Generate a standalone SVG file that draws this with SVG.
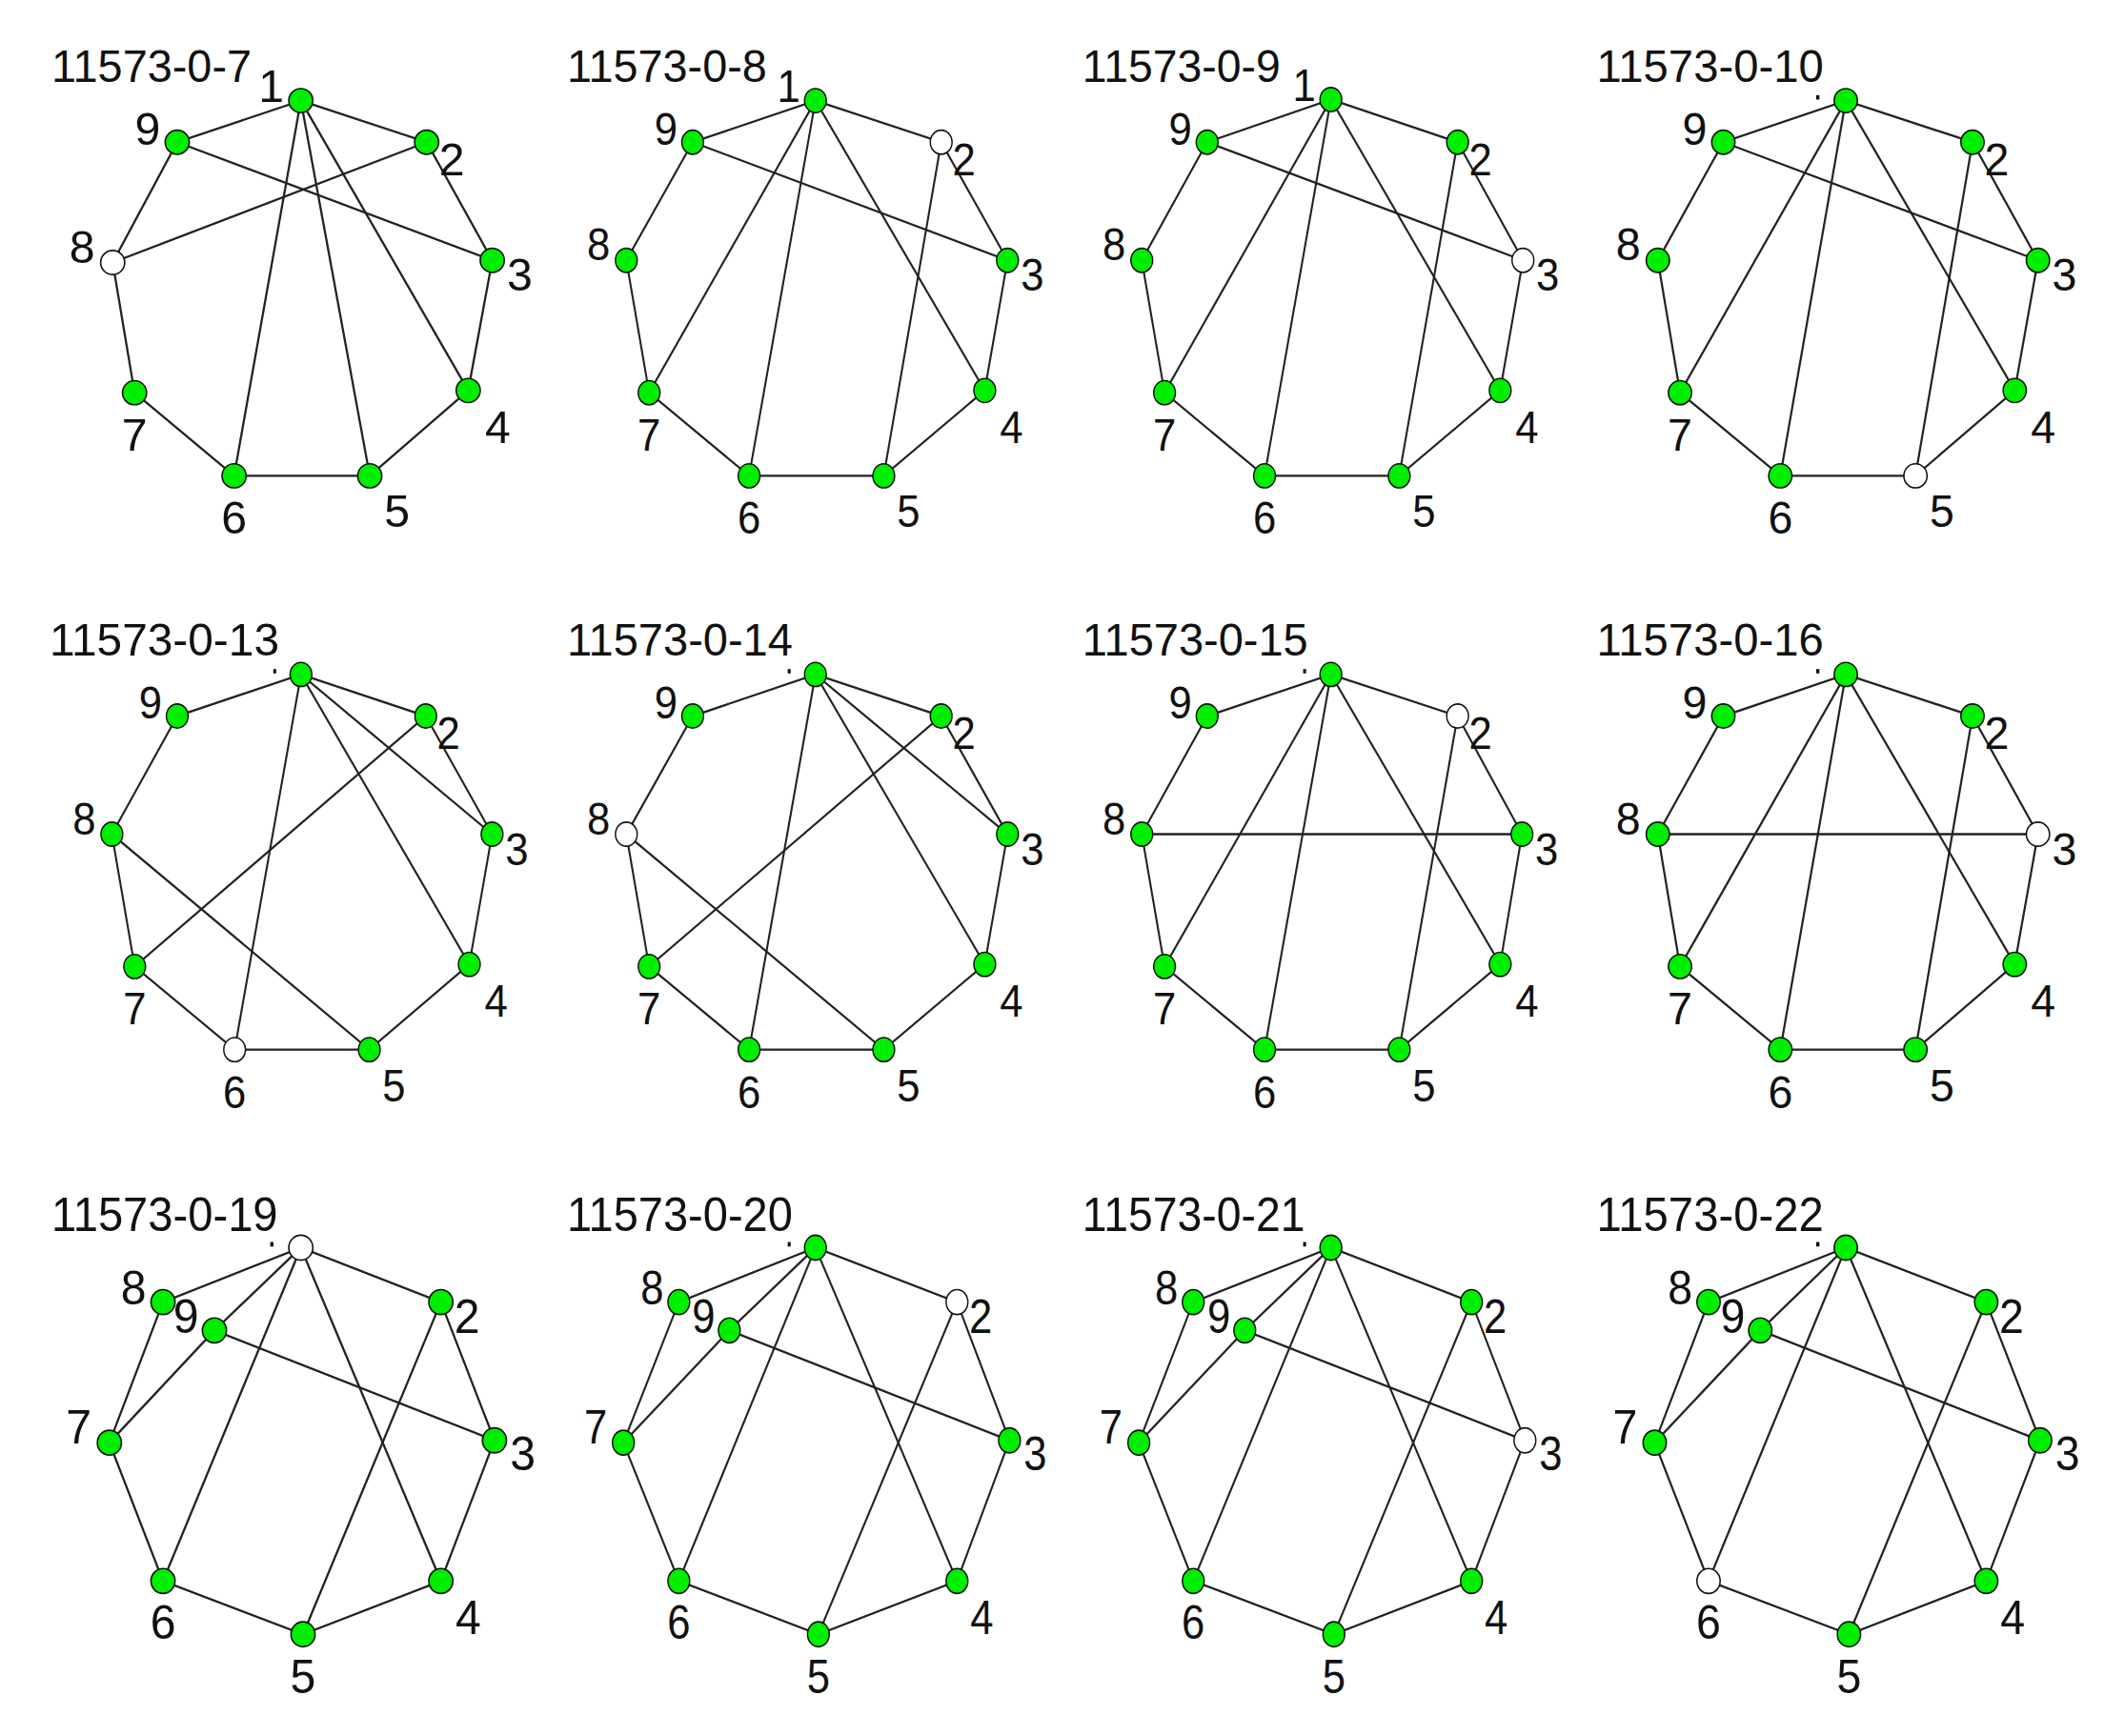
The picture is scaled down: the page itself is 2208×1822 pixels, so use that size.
<svg xmlns="http://www.w3.org/2000/svg" width="2208" height="1822" viewBox="0 0 2208 1822">
<style>
.e{stroke:#222;stroke-width:2;fill:none}
.n{fill:#00ee00;stroke:#111;stroke-width:1.4}
.w{fill:#fff;stroke:#111;stroke-width:1.4}
text{font-family:"Liberation Sans",Arial,sans-serif;font-size:42px;fill:#111}
.l{text-anchor:middle}
.d{fill:#111}
</style>
<rect width="2208" height="1822" fill="#fff"/>

<!-- P1 -->
<g id="p1" transform="translate(0,0) scale(1.148,1.148)">
<text x="47" y="75" textLength="183" lengthAdjust="spacingAndGlyphs">11573-0-7</text>
<g id="p1-edges">
<polygon class="e" points="275,92 390,130 450,238 428,357 338,435 214,435 123,359 103,240 162,130"/>
<line class="e" x1="162" y1="130" x2="450" y2="238"/><line class="e" x1="103" y1="240" x2="390" y2="130"/>
<line class="e" x1="275" y1="92" x2="214" y2="435"/><line class="e" x1="275" y1="92" x2="338" y2="435"/><line class="e" x1="275" y1="92" x2="428" y2="357"/>
</g>
<g id="p1-n1"><circle class="n" cx="275" cy="92" r="11"/><text class="l" x="248" y="93">1</text></g>
<g id="p1-n2"><circle class="n" cx="390" cy="130" r="11"/><text class="l" x="413" y="160">2</text></g>
<g id="p1-n3"><circle class="n" cx="450" cy="238" r="11"/><text class="l" x="475" y="266">3</text></g>
<g id="p1-n4"><circle class="n" cx="428" cy="357" r="11"/><text class="l" x="455" y="405">4</text></g>
<g id="p1-n5"><circle class="n" cx="338" cy="435" r="11"/><text class="l" x="363" y="482">5</text></g>
<g id="p1-n6"><circle class="n" cx="214" cy="435" r="11"/><text class="l" x="214" y="488">6</text></g>
<g id="p1-n7"><circle class="n" cx="123" cy="359" r="11"/><text class="l" x="123" y="412">7</text></g>
<g id="p1-n8"><circle class="w" cx="103" cy="240" r="11"/><text class="l" x="75" y="240">8</text></g>
<g id="p1-n9"><circle class="n" cx="162" cy="130" r="11"/><text class="l" x="135" y="132">9</text></g>
</g>

<!-- P2 -->
<g id="p2" transform="translate(543,0) scale(1.039,1.148)">
<text x="50" y="75" textLength="202" lengthAdjust="spacingAndGlyphs">11573-0-8</text>
<g id="p2-edges">
<polygon class="e" points="301,92 428,130 495,238 472,357 370,435 234,435 133,359 110,238 177,130"/>
<line class="e" x1="177" y1="130" x2="495" y2="238"/><line class="e" x1="301" y1="92" x2="133" y2="359"/>
<line class="e" x1="301" y1="92" x2="234" y2="435"/><line class="e" x1="301" y1="92" x2="472" y2="357"/><line class="e" x1="428" y1="130" x2="370" y2="435"/>
</g>
<g id="p2-n1"><circle class="n" cx="301" cy="92" r="11"/><text class="l" x="274" y="93">1</text></g>
<g id="p2-n2"><circle class="w" cx="428" cy="130" r="11"/><text class="l" x="451" y="160">2</text></g>
<g id="p2-n3"><circle class="n" cx="495" cy="238" r="11"/><text class="l" x="520" y="266">3</text></g>
<g id="p2-n4"><circle class="n" cx="472" cy="357" r="11"/><text class="l" x="499" y="405">4</text></g>
<g id="p2-n5"><circle class="n" cx="370" cy="435" r="11"/><text class="l" x="395" y="482">5</text></g>
<g id="p2-n6"><circle class="n" cx="234" cy="435" r="11"/><text class="l" x="234" y="488">6</text></g>
<g id="p2-n7"><circle class="n" cx="133" cy="359" r="11"/><text class="l" x="133" y="412">7</text></g>
<g id="p2-n8"><circle class="n" cx="110" cy="238" r="11"/><text class="l" x="82" y="238">8</text></g>
<g id="p2-n9"><circle class="n" cx="177" cy="130" r="11"/><text class="l" x="150" y="132">9</text></g>
</g>

<!-- P3 -->
<g id="p3" transform="translate(1086,0) scale(1.039,1.148)">
<text x="48" y="75" textLength="200" lengthAdjust="spacingAndGlyphs">11573-0-9</text>
<g id="p3-edges">
<polygon class="e" points="299,91 427,130 493,238 470,357 368,435 232,435 131,359 108,238 174,130"/>
<line class="e" x1="174" y1="130" x2="493" y2="238"/><line class="e" x1="299" y1="91" x2="131" y2="359"/>
<line class="e" x1="299" y1="91" x2="232" y2="435"/><line class="e" x1="299" y1="91" x2="470" y2="357"/><line class="e" x1="427" y1="130" x2="368" y2="435"/>
</g>
<g id="p3-n1"><circle class="n" cx="299" cy="91" r="11"/><text class="l" x="272" y="92">1</text></g>
<g id="p3-n2"><circle class="n" cx="427" cy="130" r="11"/><text class="l" x="450" y="160">2</text></g>
<g id="p3-n3"><circle class="w" cx="493" cy="238" r="11"/><text class="l" x="518" y="266">3</text></g>
<g id="p3-n4"><circle class="n" cx="470" cy="357" r="11"/><text class="l" x="497" y="405">4</text></g>
<g id="p3-n5"><circle class="n" cx="368" cy="435" r="11"/><text class="l" x="393" y="482">5</text></g>
<g id="p3-n6"><circle class="n" cx="232" cy="435" r="11"/><text class="l" x="232" y="488">6</text></g>
<g id="p3-n7"><circle class="n" cx="131" cy="359" r="11"/><text class="l" x="131" y="412">7</text></g>
<g id="p3-n8"><circle class="n" cx="108" cy="238" r="11"/><text class="l" x="80" y="238">8</text></g>
<g id="p3-n9"><circle class="n" cx="174" cy="130" r="11"/><text class="l" x="147" y="132">9</text></g>
</g>

<!-- P4 -->
<g id="p4" transform="translate(1629,0) scale(1.108,1.148)">
<text x="42" y="75" textLength="215" lengthAdjust="spacingAndGlyphs">11573-0-10</text>
<g id="p4-edges">
<polygon class="e" points="278,92 398,130 460,238 438,357 344,435 216,435 121,359 100,238 162,130"/>
<line class="e" x1="162" y1="130" x2="460" y2="238"/><line class="e" x1="278" y1="92" x2="121" y2="359"/>
<line class="e" x1="278" y1="92" x2="216" y2="435"/><line class="e" x1="278" y1="92" x2="438" y2="357"/><line class="e" x1="398" y1="130" x2="344" y2="435"/>
</g>
<g id="p4-n1"><circle class="n" cx="278" cy="92" r="11"/><rect class="d" x="250" y="87" width="3" height="4"/></g>
<g id="p4-n2"><circle class="n" cx="398" cy="130" r="11"/><text class="l" x="421" y="160">2</text></g>
<g id="p4-n3"><circle class="n" cx="460" cy="238" r="11"/><text class="l" x="485" y="266">3</text></g>
<g id="p4-n4"><circle class="n" cx="438" cy="357" r="11"/><text class="l" x="465" y="405">4</text></g>
<g id="p4-n5"><circle class="w" cx="344" cy="435" r="11"/><text class="l" x="369" y="482">5</text></g>
<g id="p4-n6"><circle class="n" cx="216" cy="435" r="11"/><text class="l" x="216" y="488">6</text></g>
<g id="p4-n7"><circle class="n" cx="121" cy="359" r="11"/><text class="l" x="121" y="412">7</text></g>
<g id="p4-n8"><circle class="n" cx="100" cy="238" r="11"/><text class="l" x="72" y="238">8</text></g>
<g id="p4-n9"><circle class="n" cx="162" cy="130" r="11"/><text class="l" x="135" y="132">9</text></g>
</g>

<!-- P5 -->
<g id="p5" transform="translate(0,600) scale(1.039,1.148)">
<text x="50" y="77" textLength="232" lengthAdjust="spacingAndGlyphs">11573-0-13</text>
<g id="p5-edges">
<polygon class="e" points="304,94 430,132 497,240 474,359 373,437 237,437 136,361 113,240 179,132"/>
<line class="e" x1="304" y1="94" x2="497" y2="240"/><line class="e" x1="304" y1="94" x2="474" y2="359"/>
<line class="e" x1="304" y1="94" x2="237" y2="437"/><line class="e" x1="430" y1="132" x2="136" y2="361"/><line class="e" x1="113" y1="240" x2="373" y2="437"/>
</g>
<g id="p5-n1"><circle class="n" cx="304" cy="94" r="11"/><rect class="d" x="276" y="89" width="3" height="4"/></g>
<g id="p5-n2"><circle class="n" cx="430" cy="132" r="11"/><text class="l" x="453" y="162">2</text></g>
<g id="p5-n3"><circle class="n" cx="497" cy="240" r="11"/><text class="l" x="522" y="268">3</text></g>
<g id="p5-n4"><circle class="n" cx="474" cy="359" r="11"/><text class="l" x="501" y="407">4</text></g>
<g id="p5-n5"><circle class="n" cx="373" cy="437" r="11"/><text class="l" x="398" y="484">5</text></g>
<g id="p5-n6"><circle class="w" cx="237" cy="437" r="11"/><text class="l" x="237" y="490">6</text></g>
<g id="p5-n7"><circle class="n" cx="136" cy="361" r="11"/><text class="l" x="136" y="414">7</text></g>
<g id="p5-n8"><circle class="n" cx="113" cy="240" r="11"/><text class="l" x="85" y="240">8</text></g>
<g id="p5-n9"><circle class="n" cx="179" cy="132" r="11"/><text class="l" x="152" y="134">9</text></g>
</g>

<!-- P6 -->
<g id="p6" transform="translate(543,600) scale(1.039,1.148)">
<text x="50" y="77" textLength="228" lengthAdjust="spacingAndGlyphs">11573-0-14</text>
<g id="p6-edges">
<polygon class="e" points="301,94 428,132 495,240 472,359 370,437 234,437 133,361 110,240 177,132"/>
<line class="e" x1="301" y1="94" x2="495" y2="240"/><line class="e" x1="301" y1="94" x2="472" y2="359"/>
<line class="e" x1="301" y1="94" x2="234" y2="437"/><line class="e" x1="428" y1="132" x2="133" y2="361"/><line class="e" x1="110" y1="240" x2="370" y2="437"/>
</g>
<g id="p6-n1"><circle class="n" cx="301" cy="94" r="11"/><rect class="d" x="273" y="89" width="3" height="4"/></g>
<g id="p6-n2"><circle class="n" cx="428" cy="132" r="11"/><text class="l" x="451" y="162">2</text></g>
<g id="p6-n3"><circle class="n" cx="495" cy="240" r="11"/><text class="l" x="520" y="268">3</text></g>
<g id="p6-n4"><circle class="n" cx="472" cy="359" r="11"/><text class="l" x="499" y="407">4</text></g>
<g id="p6-n5"><circle class="n" cx="370" cy="437" r="11"/><text class="l" x="395" y="484">5</text></g>
<g id="p6-n6"><circle class="n" cx="234" cy="437" r="11"/><text class="l" x="234" y="490">6</text></g>
<g id="p6-n7"><circle class="n" cx="133" cy="361" r="11"/><text class="l" x="133" y="414">7</text></g>
<g id="p6-n8"><circle class="w" cx="110" cy="240" r="11"/><text class="l" x="82" y="240">8</text></g>
<g id="p6-n9"><circle class="n" cx="177" cy="132" r="11"/><text class="l" x="150" y="134">9</text></g>
</g>

<!-- P7 -->
<g id="p7" transform="translate(1086,600) scale(1.039,1.148)">
<text x="48" y="77" textLength="228" lengthAdjust="spacingAndGlyphs">11573-0-15</text>
<g id="p7-edges">
<polygon class="e" points="299,94 427,132 492,240 470,359 368,437 232,437 131,361 108,240 174,132"/>
<line class="e" x1="108" y1="240" x2="492" y2="240"/><line class="e" x1="299" y1="94" x2="131" y2="361"/>
<line class="e" x1="299" y1="94" x2="232" y2="437"/><line class="e" x1="299" y1="94" x2="470" y2="359"/><line class="e" x1="427" y1="132" x2="368" y2="437"/>
</g>
<g id="p7-n1"><circle class="n" cx="299" cy="94" r="11"/><rect class="d" x="271" y="89" width="3" height="4"/></g>
<g id="p7-n2"><circle class="w" cx="427" cy="132" r="11"/><text class="l" x="450" y="162">2</text></g>
<g id="p7-n3"><circle class="n" cx="492" cy="240" r="11"/><text class="l" x="517" y="268">3</text></g>
<g id="p7-n4"><circle class="n" cx="470" cy="359" r="11"/><text class="l" x="497" y="407">4</text></g>
<g id="p7-n5"><circle class="n" cx="368" cy="437" r="11"/><text class="l" x="393" y="484">5</text></g>
<g id="p7-n6"><circle class="n" cx="232" cy="437" r="11"/><text class="l" x="232" y="490">6</text></g>
<g id="p7-n7"><circle class="n" cx="131" cy="361" r="11"/><text class="l" x="131" y="414">7</text></g>
<g id="p7-n8"><circle class="n" cx="108" cy="240" r="11"/><text class="l" x="80" y="240">8</text></g>
<g id="p7-n9"><circle class="n" cx="174" cy="132" r="11"/><text class="l" x="147" y="134">9</text></g>
</g>

<!-- P8 -->
<g id="p8" transform="translate(1629,600) scale(1.108,1.148)">
<text x="42" y="77" textLength="215" lengthAdjust="spacingAndGlyphs">11573-0-16</text>
<g id="p8-edges">
<polygon class="e" points="278,94 398,132 460,240 438,359 344,437 216,437 121,361 100,240 162,132"/>
<line class="e" x1="100" y1="240" x2="460" y2="240"/><line class="e" x1="278" y1="94" x2="121" y2="361"/>
<line class="e" x1="278" y1="94" x2="216" y2="437"/><line class="e" x1="278" y1="94" x2="438" y2="359"/><line class="e" x1="398" y1="132" x2="344" y2="437"/>
</g>
<g id="p8-n1"><circle class="n" cx="278" cy="94" r="11"/><rect class="d" x="250" y="89" width="3" height="4"/></g>
<g id="p8-n2"><circle class="n" cx="398" cy="132" r="11"/><text class="l" x="421" y="162">2</text></g>
<g id="p8-n3"><circle class="w" cx="460" cy="240" r="11"/><text class="l" x="485" y="268">3</text></g>
<g id="p8-n4"><circle class="n" cx="438" cy="359" r="11"/><text class="l" x="465" y="407">4</text></g>
<g id="p8-n5"><circle class="n" cx="344" cy="437" r="11"/><text class="l" x="369" y="484">5</text></g>
<g id="p8-n6"><circle class="n" cx="216" cy="437" r="11"/><text class="l" x="216" y="490">6</text></g>
<g id="p8-n7"><circle class="n" cx="121" cy="361" r="11"/><text class="l" x="121" y="414">7</text></g>
<g id="p8-n8"><circle class="n" cx="100" cy="240" r="11"/><text class="l" x="72" y="240">8</text></g>
<g id="p8-n9"><circle class="n" cx="162" cy="132" r="11"/><text class="l" x="135" y="134">9</text></g>
</g>

<!-- P9 -->
<g id="p9" transform="translate(0,1200) scale(1.148,1.19)">
<text x="47" y="77" textLength="207" lengthAdjust="spacingAndGlyphs">11573-0-19</text>
<g id="p9-edges">
<polygon class="e" points="275,92 403,140 452,262 403,386 277,433 149,386 100,264 149,140"/>
<line class="e" x1="196" y1="165" x2="275" y2="92"/><line class="e" x1="196" y1="165" x2="100" y2="264"/><line class="e" x1="196" y1="165" x2="452" y2="262"/>
<line class="e" x1="275" y1="92" x2="149" y2="386"/><line class="e" x1="275" y1="92" x2="403" y2="386"/><line class="e" x1="403" y1="140" x2="277" y2="433"/>
</g>
<g id="p9-n1"><circle class="w" cx="275" cy="92" r="11"/><rect class="d" x="247" y="87" width="3" height="4"/></g>
<g id="p9-n2"><circle class="n" cx="403" cy="140" r="11"/><text class="l" x="427" y="167">2</text></g>
<g id="p9-n3"><circle class="n" cx="452" cy="262" r="11"/><text class="l" x="478" y="288">3</text></g>
<g id="p9-n4"><circle class="n" cx="403" cy="386" r="11"/><text class="l" x="428" y="433">4</text></g>
<g id="p9-n5"><circle class="n" cx="277" cy="433" r="11"/><text class="l" x="277" y="485">5</text></g>
<g id="p9-n6"><circle class="n" cx="149" cy="386" r="11"/><text class="l" x="149" y="437">6</text></g>
<g id="p9-n7"><circle class="n" cx="100" cy="264" r="11"/><text class="l" x="72" y="265">7</text></g>
<g id="p9-n8"><circle class="n" cx="149" cy="140" r="11"/><text class="l" x="122" y="142">8</text></g>
<g id="p9-n9"><text class="l" x="170" y="167">9</text><circle class="n" cx="196" cy="165" r="11"/></g>
</g>

<!-- P10 -->
<g id="p10" transform="translate(543,1200) scale(1.039,1.19)">
<text x="50" y="77" textLength="228" lengthAdjust="spacingAndGlyphs">11573-0-20</text>
<g id="p10-edges">
<polygon class="e" points="301,92 444,140 497,262 444,386 304,433 163,386 107,264 163,140"/>
<line class="e" x1="214" y1="165" x2="301" y2="92"/><line class="e" x1="214" y1="165" x2="107" y2="264"/><line class="e" x1="214" y1="165" x2="497" y2="262"/>
<line class="e" x1="301" y1="92" x2="163" y2="386"/><line class="e" x1="301" y1="92" x2="444" y2="386"/><line class="e" x1="444" y1="140" x2="304" y2="433"/>
</g>
<g id="p10-n1"><circle class="n" cx="301" cy="92" r="11"/><rect class="d" x="273" y="87" width="3" height="4"/></g>
<g id="p10-n2"><circle class="w" cx="444" cy="140" r="11"/><text class="l" x="468" y="167">2</text></g>
<g id="p10-n3"><circle class="n" cx="497" cy="262" r="11"/><text class="l" x="523" y="288">3</text></g>
<g id="p10-n4"><circle class="n" cx="444" cy="386" r="11"/><text class="l" x="469" y="433">4</text></g>
<g id="p10-n5"><circle class="n" cx="304" cy="433" r="11"/><text class="l" x="304" y="485">5</text></g>
<g id="p10-n6"><circle class="n" cx="163" cy="386" r="11"/><text class="l" x="163" y="437">6</text></g>
<g id="p10-n7"><circle class="n" cx="107" cy="264" r="11"/><text class="l" x="79" y="265">7</text></g>
<g id="p10-n8"><circle class="n" cx="163" cy="140" r="11"/><text class="l" x="136" y="142">8</text></g>
<g id="p10-n9"><text class="l" x="188" y="167">9</text><circle class="n" cx="214" cy="165" r="11"/></g>
</g>

<!-- P11 -->
<g id="p11" transform="translate(1086,1200) scale(1.039,1.19)">
<text x="48" y="77" textLength="225" lengthAdjust="spacingAndGlyphs">11573-0-21</text>
<g id="p11-edges">
<polygon class="e" points="299,92 441,140 495,262 441,386 302,433 160,386 105,264 160,140"/>
<line class="e" x1="212" y1="165" x2="299" y2="92"/><line class="e" x1="212" y1="165" x2="105" y2="264"/><line class="e" x1="212" y1="165" x2="495" y2="262"/>
<line class="e" x1="299" y1="92" x2="160" y2="386"/><line class="e" x1="299" y1="92" x2="441" y2="386"/><line class="e" x1="441" y1="140" x2="302" y2="433"/>
</g>
<g id="p11-n1"><circle class="n" cx="299" cy="92" r="11"/><rect class="d" x="271" y="87" width="3" height="4"/></g>
<g id="p11-n2"><circle class="n" cx="441" cy="140" r="11"/><text class="l" x="465" y="167">2</text></g>
<g id="p11-n3"><circle class="w" cx="495" cy="262" r="11"/><text class="l" x="521" y="288">3</text></g>
<g id="p11-n4"><circle class="n" cx="441" cy="386" r="11"/><text class="l" x="466" y="433">4</text></g>
<g id="p11-n5"><circle class="n" cx="302" cy="433" r="11"/><text class="l" x="302" y="485">5</text></g>
<g id="p11-n6"><circle class="n" cx="160" cy="386" r="11"/><text class="l" x="160" y="437">6</text></g>
<g id="p11-n7"><circle class="n" cx="105" cy="264" r="11"/><text class="l" x="77" y="265">7</text></g>
<g id="p11-n8"><circle class="n" cx="160" cy="140" r="11"/><text class="l" x="133" y="142">8</text></g>
<g id="p11-n9"><text class="l" x="186" y="167">9</text><circle class="n" cx="212" cy="165" r="11"/></g>
</g>

<!-- P12 -->
<g id="p12" transform="translate(1629,1200) scale(1.108,1.19)">
<text x="42" y="77" textLength="215" lengthAdjust="spacingAndGlyphs">11573-0-22</text>
<g id="p12-edges">
<polygon class="e" points="278,92 411,140 462,262 411,386 281,433 148,386 97,264 148,140"/>
<line class="e" x1="197" y1="165" x2="278" y2="92"/><line class="e" x1="197" y1="165" x2="97" y2="264"/><line class="e" x1="197" y1="165" x2="462" y2="262"/>
<line class="e" x1="278" y1="92" x2="148" y2="386"/><line class="e" x1="278" y1="92" x2="411" y2="386"/><line class="e" x1="411" y1="140" x2="281" y2="433"/>
</g>
<g id="p12-n1"><circle class="n" cx="278" cy="92" r="11"/><rect class="d" x="250" y="87" width="3" height="4"/></g>
<g id="p12-n2"><circle class="n" cx="411" cy="140" r="11"/><text class="l" x="435" y="167">2</text></g>
<g id="p12-n3"><circle class="n" cx="462" cy="262" r="11"/><text class="l" x="488" y="288">3</text></g>
<g id="p12-n4"><circle class="n" cx="411" cy="386" r="11"/><text class="l" x="436" y="433">4</text></g>
<g id="p12-n5"><circle class="n" cx="281" cy="433" r="11"/><text class="l" x="281" y="485">5</text></g>
<g id="p12-n6"><circle class="w" cx="148" cy="386" r="11"/><text class="l" x="148" y="437">6</text></g>
<g id="p12-n7"><circle class="n" cx="97" cy="264" r="11"/><text class="l" x="69" y="265">7</text></g>
<g id="p12-n8"><circle class="n" cx="148" cy="140" r="11"/><text class="l" x="121" y="142">8</text></g>
<g id="p12-n9"><text class="l" x="171" y="167">9</text><circle class="n" cx="197" cy="165" r="11"/></g>
</g>
</svg>
